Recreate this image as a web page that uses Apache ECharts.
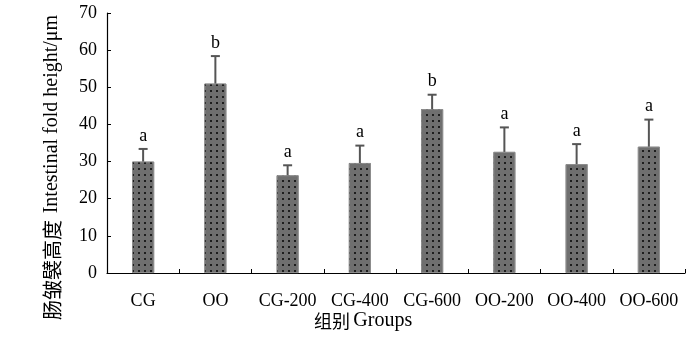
<!DOCTYPE html>
<html>
<head>
<meta charset="utf-8">
<script src="https://cdn.jsdelivr.net/npm/echarts@6/dist/echarts.min.js"></script>
<style>html,body{margin:0;padding:0;background:#fff}#c{width:700px;height:344px}</style>
</head>
<body>
<div id="c"></div>
<script>
var categories = ['CG', 'OO', 'CG-200', 'CG-400', 'CG-600', 'OO-200', 'OO-400', 'OO-600'];
var means = [30.0, 51.0, 26.3, 29.6, 44.1, 32.6, 29.3, 34.0];
var errTops = [33.4, 58.4, 29.0, 34.3, 48.0, 39.2, 34.7, 41.3];
var letters = ['a', 'b', 'a', 'a', 'b', 'a', 'a', 'a'];
var yTicks = [0, 10, 20, 30, 40, 50, 60, 70];

var serif = '"Liberation Serif", "DejaVu Serif", serif';
var cjk = '"Noto Sans CJK SC", sans-serif';
var chart = echarts.init(document.getElementById('c'), null, {renderer: 'canvas'});
var errData = means.map(function (m, i) { return [i, m, errTops[i], letters[i]]; });

chart.setOption({
  animation: false,
  backgroundColor: '#fff',
  grid: {left: 107, right: 15, top: 13, bottom: 71, containLabel: false},
  xAxis: {
    type: 'category',
    data: categories,
    axisLine: {lineStyle: {color: '#000', width: 1.2}},
    axisTick: {show: true, inside: true, length: 4, alignWithLabel: false, lineStyle: {color: '#000'}},
    axisLabel: {color: '#000', fontFamily: serif, fontSize: 18, margin: 19, interval: 0}
  },
  yAxis: {
    type: 'value',
    min: yTicks[0], max: yTicks[yTicks.length - 1], interval: 10,
    axisLine: {show: true, lineStyle: {color: '#000', width: 1.2}},
    axisTick: {show: true, inside: true, length: 4, lineStyle: {color: '#000'}},
    splitLine: {show: false},
    axisLabel: {color: '#000', fontFamily: serif, fontSize: 18, margin: 10}
  },
  graphic: [
    {type: 'text', left: 314, top: 311, style: {
      text: '{c|组别} {e|Groups}',
      rich: {c: {fontFamily: cjk, fontSize: 18, fill: '#000'}, e: {fontFamily: serif, fontSize: 20, fill: '#000'}}
    }},
    {type: 'text', x: 42, y: 320, rotation: Math.PI / 2, originX: 0, originY: 0,
      style: {
        text: '{c|肠皱襞高度}  {e|Intestinal fold height/μm}',
        rich: {c: {fontFamily: cjk, fontSize: 20, fill: '#000'}, e: {fontFamily: serif, fontSize: 20, fill: '#000'}},
        align: 'left', verticalAlign: 'top'
      }}
  ],
  series: [
    {
      type: 'bar',
      data: means,
      barWidth: 22,
      itemStyle: {
        color: '#6f6f6f',
        borderColor: '#8a8a8a',
        borderWidth: 0.8,
        decal: {symbol: 'rect', symbolSize: 1, color: '#1e1e1e', dashArrayX: [1.5, 3.5], dashArrayY: [1.5, 3.5], rotation: 0}
      },
      z: 2
    },
    {
      type: 'custom',
      data: errData,
      encode: {x: 0, y: [1, 2]},
      z: 3,
      renderItem: function (params, api) {
        var x = api.value(0);
        var p0 = api.coord([x, api.value(1)]);
        var p1 = api.coord([x, api.value(2)]);
        var cap = 4.5;
        return {
          type: 'group',
          children: [
            {type: 'line', shape: {x1: p0[0], y1: p0[1], x2: p1[0], y2: p1[1]}, style: {stroke: '#555', lineWidth: 2}},
            {type: 'line', shape: {x1: p1[0] - cap, y1: p1[1], x2: p1[0] + cap, y2: p1[1]}, style: {stroke: '#555', lineWidth: 2}},
            {type: 'text', x: p1[0], y: p1[1] - 4, style: {text: api.value(3), fill: '#000', font: '18px "Liberation Serif", serif', textAlign: 'center', textVerticalAlign: 'bottom'}}
          ]
        };
      }
    }
  ]
});
</script>
</body>
</html>
